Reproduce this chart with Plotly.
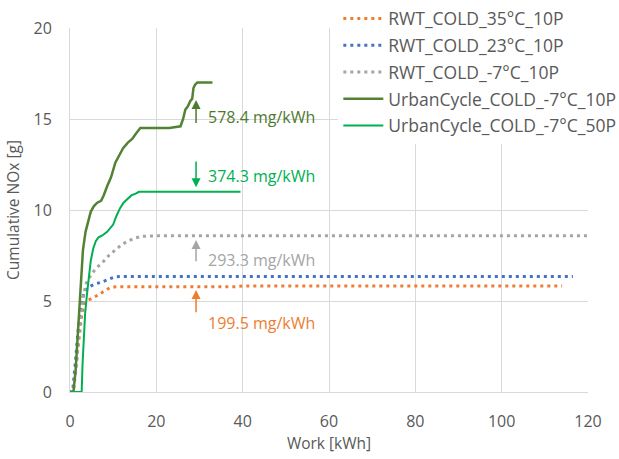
import plotly.graph_objects as go

# ---- data ----
names = ["RWT_COLD_35°C_10P", "RWT_COLD_23°C_10P", "RWT_COLD_-7°C_10P",
         "UrbanCycle_COLD_-7°C_10P", "UrbanCycle_COLD_-7°C_50P"]

x_35 = [0, 0.7, 1.3, 2.0, 2.7, 3.4, 4.2, 5.2, 6.2, 7.2, 8.2, 9.2, 10.5, 20, 38, 40, 60, 80, 100, 114]
y_35 = [0, 0, 1.3, 2.8, 4.2, 4.9, 5.05, 5.15, 5.3, 5.45, 5.6, 5.72, 5.78, 5.78, 5.78, 5.83, 5.83, 5.83, 5.83, 5.83]

x_23 = [0, 0.6, 1.2, 1.8, 2.5, 3.2, 4.0, 5.0, 6.0, 7.5, 9.0, 10.5, 12, 20, 40, 60, 80, 100, 116.5]
y_23 = [0, 0, 1.5, 3.2, 4.6, 5.4, 5.7, 5.85, 5.95, 6.05, 6.2, 6.33, 6.35, 6.35, 6.35, 6.35, 6.35, 6.35, 6.35]

x_m7 = [0, 0.8, 1.5, 2.2, 3.0, 3.8, 4.8, 6, 7.5, 9, 10.5, 12, 13.5, 15, 16.5, 18, 20, 40, 60, 80, 100, 120]
y_m7 = [0, 0, 1.5, 3.5, 5.2, 6.0, 6.4, 6.8, 7.1, 7.5, 7.8, 8.1, 8.3, 8.45, 8.55, 8.58, 8.58, 8.58, 8.58, 8.58, 8.58, 8.58]

x_u10 = [0, 0.8, 1.3, 1.7, 2.1, 2.5, 3.0, 3.6, 4.2, 4.8, 5.5, 6.3, 7.2, 7.8, 8.6, 9.5, 10.5, 11.4,
         12.3, 13.4, 14.4, 15.3, 16.3, 17.5, 20, 23, 25.6, 26.2, 26.7, 27.3, 27.9, 28.3, 28.6, 29.0, 29.5, 31, 33]
y_u10 = [0, 0, 1.2, 2.8, 4.5, 6.3, 7.8, 8.8, 9.4, 9.9, 10.2, 10.4, 10.5, 10.8, 11.3, 11.8, 12.6, 13.0,
         13.4, 13.7, 13.9, 14.2, 14.5, 14.5, 14.5, 14.5, 14.6, 15.0, 15.5, 15.7, 16.0, 16.1, 16.7, 16.9, 17.0, 17.0, 17.0]

x_u50 = [0, 2.7, 2.9, 3.2, 3.5, 3.9, 4.3, 4.8, 5.4, 6.0, 6.6, 7.5, 8.6, 9.4, 10.0, 10.8, 11.6, 12.4,
         13.2, 14.2, 15.2, 16.0, 20, 30, 39.5]
y_u50 = [0, 0, 1.5, 3.0, 4.3, 5.3, 6.3, 7.2, 7.9, 8.3, 8.5, 8.6, 8.8, 9.0, 9.2, 9.7, 10.1, 10.4,
         10.6, 10.8, 10.9, 11.0, 11.0, 11.0, 11.0]

labels = ["578.4 mg/kWh", "374.3 mg/kWh", "293.3 mg/kWh", "199.5 mg/kWh"]

colors = ["#ED7D31", "#4472C4", "#A5A5A5", "#548235", "#00B050"]

fig = go.Figure()
series = [(x_35, y_35), (x_23, y_23), (x_m7, y_m7), (x_u10, y_u10), (x_u50, y_u50)]
for i, (xs, ys) in enumerate(series):
    dotted = i < 3
    fig.add_trace(go.Scatter(
        x=xs, y=ys, mode="lines", name=names[i], legendgroup=str(i),
        line=dict(color=colors[i], width=3 if dotted else (2.5 if i == 3 else 2),
                  dash="3px,4px" if dotted else "solid"),
    ))

# arrows + labels
arrow_x = 29.2
text_x = 31.4
arrows = [  # (head_y, tail_y, text_y, color)
    (16.05, 14.7, 15.1, "#4E7A2E"),
    (11.25, 12.75, 11.87, "#00B050"),
    (8.35, 7.1, 7.25, "#A5A5A5"),
    (5.6, 4.3, 3.8, "#ED7D31"),
]
for (hy, ty, tyy, c), lab in zip(arrows, labels):
    fig.add_annotation(x=arrow_x, y=hy, ax=arrow_x, ay=ty, xref="x", yref="y",
                       axref="x", ayref="y", showarrow=True, arrowhead=2,
                       arrowsize=1.2, arrowwidth=1.5, arrowcolor=c, text="")
    fig.add_annotation(x=text_x, y=tyy, xref="x", yref="y", text=lab, showarrow=False,
                       xanchor="left", yanchor="middle",
                       font=dict(family="Open Sans", size=16, color=c))

fig.update_layout(
    width=619, height=459,
    margin=dict(l=70, r=31, t=28, b=67, autoexpand=False),
    paper_bgcolor="white", plot_bgcolor="white",
    font=dict(family="Open Sans", color="#595959", size=14),
    legend=dict(x=0.518, y=1.075, xanchor="left", yanchor="top",
                bgcolor="white", tracegroupgap=1,
                font=dict(size=17.5, color="#595959"),
                itemwidth=40),
    showlegend=True,
)
fig.update_xaxes(range=[0, 120], dtick=20, showgrid=True, gridcolor="#D9D9D9",
                 zeroline=False, showline=True, linecolor="#D9D9D9", ticks="",
                 ticklabelstandoff=15,
                 title=dict(text="Work [kWh]", font=dict(size=15.5, color="#595959"), standoff=6),
                 tickfont=dict(size=16, color="#595959"))
fig.update_yaxes(range=[0, 20], dtick=5, showgrid=True, gridcolor="#D9D9D9",
                 zeroline=False, showline=True, linecolor="#D9D9D9", ticks="",
                 ticklabelstandoff=14,
                 title=dict(text="Cumulative NOx [g]", font=dict(size=15.5, color="#595959"), standoff=10),
                 tickfont=dict(size=16, color="#595959"))

fig.write_html("out.html")
